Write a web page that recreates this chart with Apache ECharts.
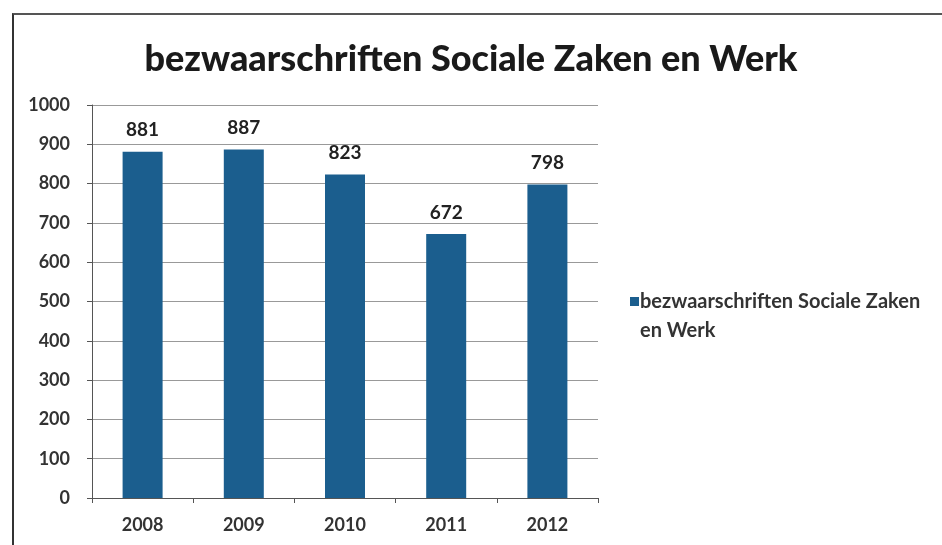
<!DOCTYPE html>
<html><head><meta charset="utf-8">
<script src="https://cdn.jsdelivr.net/npm/echarts@6/dist/echarts.min.js"></script>
<style>
html,body{margin:0;padding:0;background:#fff;}
#frame{position:absolute;left:12px;top:13px;width:940px;height:540px;border-left:2px solid #333;border-top:2px solid #555;}
#c{position:absolute;left:0;top:0;width:942px;height:545px;}
</style></head><body>
<div id="frame"></div>
<div id="c"></div>
<script>
const categories = ['2008','2009','2010','2011','2012'];
const values = [881, 887, 823, 672, 798];
const seriesName = 'bezwaarschriften Sociale Zaken en Werk';
const titleText = 'bezwaarschriften Sociale Zaken en Werk';
const legendLines = ['bezwaarschriften Sociale Zaken', 'en Werk'];

const chart = echarts.init(document.getElementById('c'), null, {renderer:'canvas'});
const font = 'Lato, "Open Sans", sans-serif';
chart.setOption({
  backgroundColor: 'transparent',
  animation: false,
  title: {
    text: titleText, left: 'center', top: 41, padding: 0,
    textStyle: {fontFamily: font, fontSize: 36, fontWeight: 900, color: '#1a1a1a'}
  },
  legend: {
    orient: 'vertical', left: 630, top: 258, padding: 0,
    itemWidth: 9, itemHeight: 9, itemGap: 0,
    icon: 'rect',
    formatter: () => '\n' + legendLines.join('\n'),
    textStyle: {fontFamily: font, fontSize: 20, fontWeight: 'bold', color: '#333', lineHeight: 29, padding:[0,0,0,-4]},
    data: [seriesName]
  },
  grid: {left: 92, right: 344, top: 105, bottom: 47},
  xAxis: {
    type: 'category', data: categories,
    axisLine: {lineStyle: {color: '#555', width: 1}},
    axisTick: {show: true, length: 5, lineStyle: {color: '#555'}},
    axisLabel: {fontFamily: font, fontSize: 18, fontWeight: 'bold', color: '#333', margin: 18}
  },
  yAxis: {
    type: 'value', min: 0, max: 1000, interval: 100,
    axisLine: {show: true, lineStyle: {color: '#555'}},
    axisTick: {show: true, length: 5, lineStyle: {color: '#555'}},
    splitLine: {lineStyle: {color: '#999', width: 1}},
    axisLabel: {fontFamily: font, fontSize: 18, fontWeight: 'bold', color: '#333', margin: 22, formatter: v => String(v)}
  },
  series: [{
    name: seriesName, type: 'bar', data: values, barWidth: 40,
    itemStyle: {color: '#1b5e8e'},
    label: {show: true, position: 'top', distance: 12, fontFamily: font, fontSize: 19, fontWeight: 'bold', color: '#222'}
  }]
});
</script>
</body></html>
